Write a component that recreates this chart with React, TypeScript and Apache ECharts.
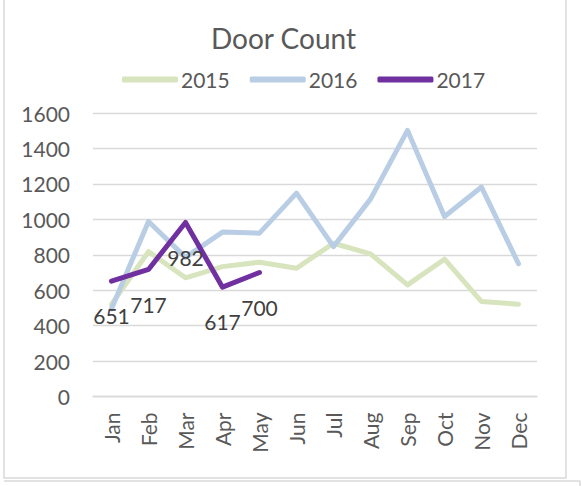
import React, { useEffect, useRef } from "react";
import * as echarts from "echarts";

const months = ["Jan", "Feb", "Mar", "Apr", "May", "Jun", "Jul", "Aug", "Sep", "Oct", "Nov", "Dec"];
const data2015 = [520, 818, 670, 733, 758, 724, 865, 805, 630, 775, 536, 521];
const data2016 = [495, 988, 785, 928, 922, 1148, 846, 1114, 1502, 1016, 1182, 749];
const data2017 = [651, 717, 982, 617, 700];
const yTicks = { min: 0, max: 1600, interval: 200 };

const FONT = "Lato, 'Open Sans', sans-serif";
const TXT = "#595959";
const GRID = "#d9d9d9";
const FS = 21;

export default function App() {
  const ref = useRef<HTMLDivElement>(null);
  useEffect(() => {
    if (!ref.current) return;
    const chart = echarts.init(ref.current, null, { renderer: "svg" });
    const lineSeries = (name: string, data: number[], color: string, z: number, labels: boolean) => ({
      name,
      type: "line",
      data,
      symbol: labels ? "circle" : "none",
      symbolSize: 0.1,
      showSymbol: labels,
      z,
      lineStyle: { color, width: 5, cap: "round", join: "round" },
      itemStyle: { color },
      label: labels
        ? {
            show: true,
            position: "bottom",
            distance: 24,
            color: "#404040",
            fontSize: FS,
            fontFamily: FONT,
          }
        : { show: false },
    });
    chart.setOption({
      animation: false,
      title: {
        text: "Door Count",
        left: 211,
        top: 24,
        padding: 0,
        textStyle: { fontFamily: FONT, fontSize: 28, fontWeight: "normal", color: TXT },
      },
      legend: {
        left: 122,
        top: 69,
        padding: 0,
        itemWidth: 56,
        itemHeight: 6,
        itemGap: 20,
        icon: "roundRect",
        textStyle: { fontFamily: FONT, fontSize: FS, color: TXT, padding: [0, 0, 0, -2] },
        data: ["2015", "2016", "2017"],
      },
      grid: { left: 93, right: 45, top: 113, bottom: 89.5, containLabel: false },
      xAxis: {
        type: "category",
        data: months,
        boundaryGap: true,
        axisLine: { show: true, lineStyle: { color: GRID, width: 1.3 } },
        axisTick: { show: false },
        axisLabel: { rotate: 90, margin: 16, fontFamily: FONT, fontSize: FS, color: TXT },
      },
      yAxis: {
        type: "value",
        min: yTicks.min,
        max: yTicks.max,
        interval: yTicks.interval,
        axisLine: { show: false },
        axisTick: { show: false },
        splitLine: { lineStyle: { color: GRID, width: 1.3 } },
        axisLabel: {
          margin: 23,
          fontFamily: FONT,
          fontSize: FS,
          color: TXT,
          formatter: (v: number) => String(v),
        },
      },
      series: [
        lineSeries("2015", data2015, "#D7E4BD", 2, false),
        lineSeries("2016", data2016, "#B9CDE5", 3, false),
        lineSeries("2017", data2017, "#7030A0", 4, true),
      ],
      graphic: [
        { type: "rect", shape: { x: 4, y: -5, width: 562, height: 483 }, style: { fill: "none", stroke: GRID, lineWidth: 1.5 }, silent: true },
        { type: "line", shape: { x1: 4, y1: 481, x2: 580, y2: 481 }, style: { stroke: GRID, lineWidth: 1.5 }, silent: true },
        { type: "line", shape: { x1: 580, y1: 481, x2: 580, y2: 486 }, style: { stroke: GRID, lineWidth: 1.5 }, silent: true },
      ],
    });
    return () => chart.dispose();
  }, []);
  return (
    <div
      ref={ref}
      style={{ position: "fixed", left: 0, top: 0, width: 582, height: 486, background: "#fff" }}
    />
  );
}
